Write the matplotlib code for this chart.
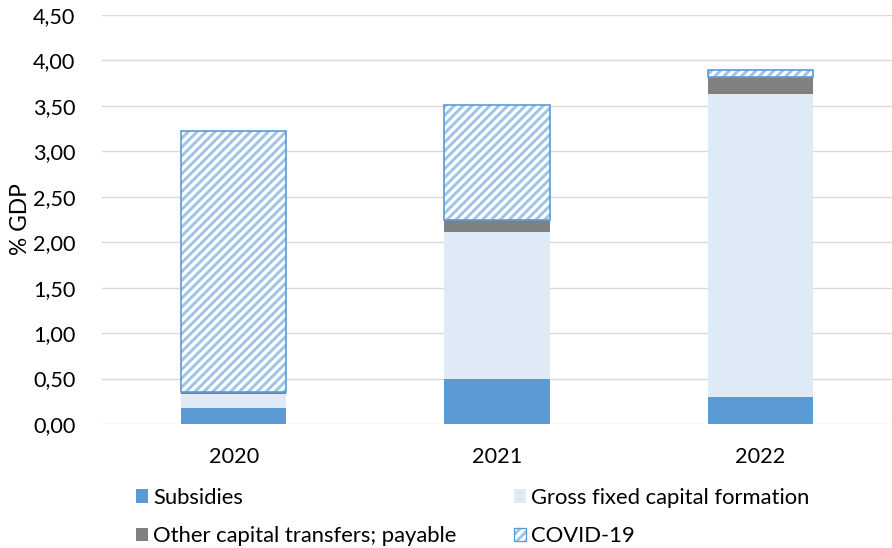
import matplotlib
matplotlib.use("Agg")
import matplotlib.pyplot as plt
from matplotlib.patches import Patch
import numpy as np

years = ["2020", "2021", "2022"]
subsidies = [0.18, 0.49, 0.30]
gfcf = [0.15, 1.62, 3.33]
other = [0.02, 0.14, 0.19]
covid = [2.87, 1.26, 0.08]

c_sub = "#5B9BD5"
c_gfcf = "#DEEBF7"
c_other = "#808080"
c_hatch = "#9DC3E6"

plt.rcParams["font.family"] = ["Lato", "DejaVu Sans"]
plt.rcParams["hatch.linewidth"] = 2.6

fig = plt.figure(figsize=(892 / 80, 548 / 80), dpi=80)
ax = fig.add_axes([0.1143, 0.2263, 0.8857, 0.7463])

x = np.arange(len(years))
w = 0.40
sub = np.array(subsidies)
g = np.array(gfcf)
o = np.array(other)
cv = np.array(covid)

ax.bar(x, sub, w, color=c_sub, zorder=3)
ax.bar(x, g, w, bottom=sub, color=c_gfcf, zorder=3)
ax.bar(x, o, w, bottom=sub + g, color=c_other, zorder=3)
ax.bar(x, cv, w, bottom=sub + g + o, facecolor="white", edgecolor=c_hatch,
       hatch="///", linewidth=0, zorder=3)
ax.bar(x, cv, w, bottom=sub + g + o, facecolor="none", edgecolor=c_sub,
       linewidth=1.5, zorder=4)

ax.set_xlim(-0.5, 2.5)
ax.set_ylim(0, 4.5)
ax.set_yticks(np.arange(0, 4.51, 0.5))
ax.set_yticklabels([f"{v:.2f}".replace(".", ",") for v in np.arange(0, 4.51, 0.5)])
ax.set_xticks(x)
ax.set_xticklabels(years)
ax.grid(axis="y", color="#D9D9D9", linewidth=1.2, zorder=0)
for s in ax.spines.values():
    s.set_visible(False)
ax.tick_params(length=0, labelsize=19.5, colors="#000000")
ax.tick_params(axis="x", pad=21)
ax.tick_params(axis="y", pad=24)
ax.set_ylabel("% GDP", fontsize=20.5, labelpad=2)

handles = [
    Patch(facecolor=c_sub),
    Patch(facecolor=c_other),
    Patch(facecolor=c_gfcf),
    (Patch(facecolor="white", edgecolor=c_hatch, hatch="///", linewidth=0),
     Patch(facecolor="none", edgecolor=c_sub, linewidth=1.2)),
]
labels = ["Subsidies", "Other capital transfers; payable",
          "Gross fixed capital formation", "COVID-19"]
fig.legend(handles, labels, ncol=2, loc="upper left",
           bbox_to_anchor=(0.152, 0.11), bbox_transform=fig.transFigure,
           frameon=False, fontsize=19.8, handlelength=0.55, handleheight=0.55,
           handletextpad=0.25, columnspacing=2.6, labelspacing=0.85,
           borderpad=0, borderaxespad=0)

fig.savefig("out.png", dpi=80)
